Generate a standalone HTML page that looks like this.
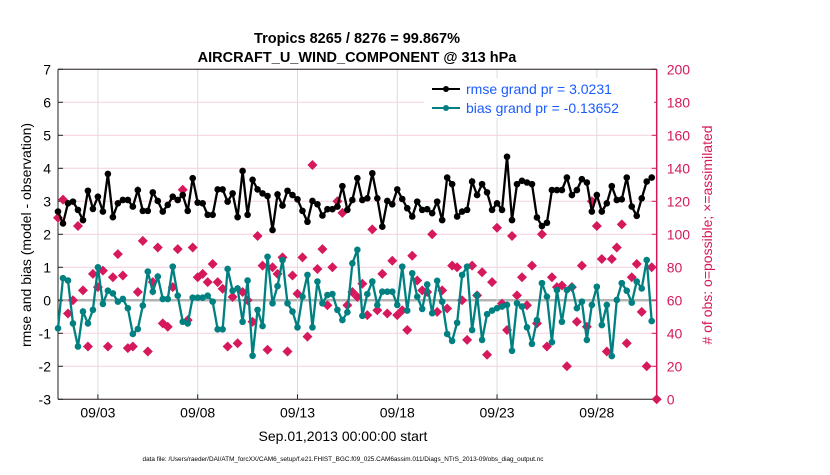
<!DOCTYPE html>
<html><head><meta charset="utf-8"><style>
body{margin:0;background:#fff;font-family:"Liberation Sans",sans-serif}
svg text{font-family:"Liberation Sans",sans-serif}
</style></head><body>
<svg id="c" width="830" height="470" xmlns="http://www.w3.org/2000/svg">
<text x="357" y="43" text-anchor="middle" font-size="14.5" font-weight="bold">Tropics 8265 / 8276 = 99.867%</text>
<text x="357" y="62" text-anchor="middle" font-size="14.5" font-weight="bold">AIRCRAFT_U_WIND_COMPONENT @ 313 hPa</text>
<g id="grid"></g>
<g id="axes"></g>
<g id="marks"></g>
<text transform="translate(31,235) rotate(-90)" text-anchor="middle" font-size="14">rmse and bias (model - observation)</text>
<text transform="translate(712,235) rotate(-90)" text-anchor="middle" font-size="14" fill="#d6185c"># of obs: o=possible; ×=assimilated</text>
<text x="343" y="441" text-anchor="middle" font-size="14">Sep.01,2013 00:00:00 start</text>
<text x="343" y="461" text-anchor="middle" font-size="6.4">data file: /Users/raeder/DAI/ATM_forcXX/CAM6_setup/f.e21.FHIST_BGC.f09_025.CAM6assim.011/Diags_NTrS_2013-09/obs_diag_output.nc</text>
<g>
<rect x="424" y="78" width="230" height="40" fill="#fff"/>
<line x1="432" y1="89" x2="460" y2="89" stroke="#000" stroke-width="2"/>
<circle cx="446" cy="89" r="3" fill="#000"/>
<text x="466" y="94" font-size="14" fill="#1a5cff">rmse grand pr = 3.0231</text>
<line x1="432" y1="108" x2="460" y2="108" stroke="#008080" stroke-width="2"/>
<circle cx="446" cy="108" r="3" fill="#008080"/>
<text x="466" y="113" font-size="14" fill="#1a5cff">bias grand pr = -0.13652</text>
</g>
</svg>
<script>
const rmse=[2.69,2.33,2.94,2.99,2.74,2.43,3.32,2.77,3.14,2.69,3.83,2.52,2.94,3.04,3.04,2.84,3.34,2.71,2.71,3.27,3.01,2.69,2.89,3.14,3.04,3.19,2.71,3.70,2.96,2.94,2.59,2.59,3.36,3.36,2.99,3.24,2.52,3.92,2.59,3.65,3.36,3.24,3.16,2.13,3.21,2.87,3.32,3.19,3.06,2.71,2.38,3.01,2.91,2.57,2.76,2.76,2.84,3.46,2.74,3.04,3.70,3.04,3.09,3.85,3.09,2.23,3.01,2.91,3.36,3.07,2.79,2.54,2.99,2.74,2.76,2.64,2.99,2.43,3.72,3.52,2.54,2.69,2.74,3.60,3.19,3.52,3.27,2.74,2.94,2.74,4.35,2.43,3.52,3.62,3.57,3.52,2.51,2.25,2.35,3.34,3.34,3.34,3.72,3.19,3.34,3.67,3.57,2.69,3.19,2.69,2.94,3.46,3.04,3.06,3.72,2.84,2.56,3.09,3.60,3.72];
const bias=[-0.85,0.67,0.60,-0.70,-1.40,-0.34,-0.70,-0.29,1.0,-0.11,0.29,0.21,-0.04,0.04,-0.24,-1.02,-0.87,-0.16,0.87,0.26,0.72,0.04,0.04,1.02,0.14,-0.65,-0.70,0.08,0.08,0.08,0.14,-0.04,-0.88,-0.88,0.95,0.29,0.36,-0.65,0.60,-1.68,-0.29,-0.78,1.32,-0.09,0.43,1.22,-0.09,-0.34,-0.82,0.11,0.77,-0.82,0.57,-0.09,0.16,0.19,-0.29,-0.60,-0.36,1.12,1.53,-0.47,0.19,0.57,-0.14,0.26,0.26,0.26,-0.14,1.02,-0.31,0.82,0.11,-0.26,0.48,-0.39,0.59,-0.04,-1.02,-1.23,-0.68,0.77,1.02,-0.90,0.16,-1.20,-0.42,-0.31,-0.24,-0.19,-0.14,-1.53,-0.09,-0.19,-0.82,-1.32,-0.60,0.52,0.11,-1.27,0.31,-0.65,0.31,0.41,-0.24,-0.04,-1.20,-0.14,0.41,-0.75,-0.14,-1.69,0.01,0.52,0.29,-0.07,0.57,0.36,1.22,-0.63];
const nobs=[110,121,52,60,105,66,32,76,68,78,32,74,88,75,31,32,65,96,29,71,92,46,44,68,91,127,48,92,74,76,71,82,71,67,32,62,34,65,60,47,99,81,30,80,76,86,29,75,64,86,38,142,79,91,57,80,120,113,57,65,62,70,51,103,54,76,52,84,51,54,42,87,72,66,65,100,53,66,55,81,80,60,36,81,63,77,27,71,104,58,42,99,63,74,57,81,46,100,32,74,68,69,20,68,47,81,44,120,105,85,29,85,92,106,34,74,82,53,20,80,0];
const xTickDays=[2,7,12,17,22,27];
const xTickLabels=["09/03","09/08","09/13","09/18","09/23","09/28"];
const yTicks=[-3,-2,-1,0,1,2,3,4,5,6,7];
const y2Ticks=[0,20,40,60,80,100,120,140,160,180,200];

const NS="http://www.w3.org/2000/svg";
const L=58,R=656.7,T=69.3,B=399.3;
const xs=d=>L+(d/30)*(R-L);
const ys=v=>B-(v+3)/10*(B-T);
const ys2=v=>B-v/200*(B-T);
function mk(tag,at,parent){const e=document.createElementNS(NS,tag);for(const k in at)e.setAttribute(k,at[k]);parent.appendChild(e);return e;}
const grid=document.getElementById('grid'),axes=document.getElementById('axes'),marks=document.getElementById('marks');
mk('rect',{x:L,y:T,width:R-L,height:B-T,fill:'#fff'},grid);
yTicks.forEach(v=>{
  const l=mk('line',{x1:L,x2:R,y1:ys(v),y2:ys(v),stroke:v===0?'#b4b4b4':'#f6cfe0','stroke-width':v===0?2.5:1},grid);
  
  
  const t=mk('text',{x:L-7,y:ys(v)+5,'text-anchor':'end','font-size':14},axes);t.textContent=v;
  
  
  mk('line',{x1:L,x2:L+5,y1:ys(v),y2:ys(v),stroke:'#222'},axes);
});
xTickDays.forEach((d,i)=>{
  const l=mk('line',{x1:xs(d),x2:xs(d),y1:T,y2:B,stroke:'#dcdcdc'},grid);
  
  
  mk('line',{x1:xs(d),x2:xs(d),y1:B,y2:B-5,stroke:'#222'},axes);
  const t=mk('text',{x:xs(d),y:B+18,'text-anchor':'middle','font-size':14},axes);t.textContent=xTickLabels[i];
  
  
});
y2Ticks.forEach(v=>{
  mk('line',{x1:R,x2:R-5,y1:ys2(v),y2:ys2(v),stroke:'#d6185c'},axes);
  const t=mk('text',{x:R+10,y:ys2(v)+5,'font-size':14,fill:'#d6185c'},axes);t.textContent=v;
  
  
});
mk('line',{x1:L,x2:L,y1:T,y2:B,stroke:'#222'},axes);
mk('line',{x1:L,x2:R,y1:B,y2:B,stroke:'#222'},axes);
mk('line',{x1:R,x2:R,y1:T,y2:B,stroke:'#d6185c','stroke-width':1.5},axes);
mk('line',{x1:L,x2:R,y1:T,y2:T,stroke:'#222'},axes);
nobs.forEach((v,i)=>{
  const x=xs(i*0.25),y=ys2(v),r=5;
  const p=mk('polygon',{points:`${x},${y-r} ${x+r},${y} ${x},${y+r} ${x-r},${y}`,fill:'#d6185c'},marks);
  
  
});
function series(vals,col,name){
  const pts=vals.map((v,i)=>xs(i*0.25)+','+ys(v)).join(' ');
  const pl=mk('polyline',{points:pts,fill:'none',stroke:col,'stroke-width':2.3},marks);
  
  
  vals.forEach((v,i)=>{
    const c=mk('circle',{cx:xs(i*0.25),cy:ys(v),r:3.3,fill:col},marks);
    
    
  });
}
series(rmse,'#000','rmse');
series(bias,'#008080','bias');
</script>
</body></html>
